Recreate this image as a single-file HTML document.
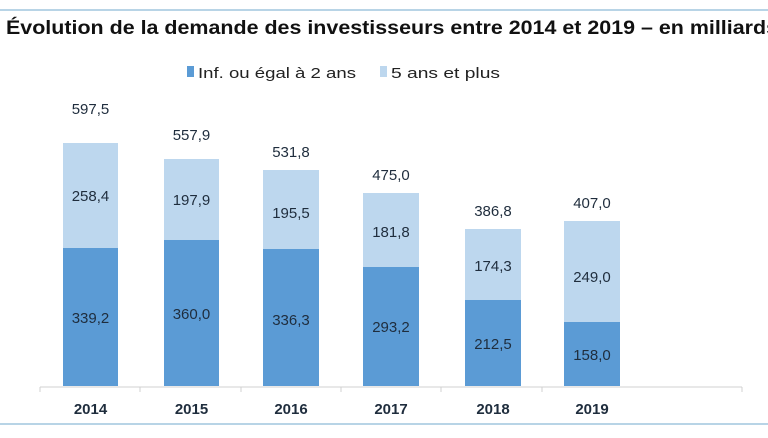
<!DOCTYPE html>
<html><head><meta charset="utf-8"><style>
body{margin:0;background:#fff;width:768px;height:433px;overflow:hidden}
</style></head><body>
<svg width="768" height="433" xmlns="http://www.w3.org/2000/svg" font-family="Liberation Sans, sans-serif">
<rect width="768" height="433" fill="#fff"/>
<line x1="0" y1="10" x2="768" y2="10" stroke="#b8d4e6" stroke-width="2"/>
<line x1="0" y1="424" x2="768" y2="424" stroke="#b8d4e6" stroke-width="2"/>
<text x="6" y="34" font-size="19" font-weight="bold" fill="#111" textLength="772" lengthAdjust="spacingAndGlyphs">Évolution de la demande des investisseurs entre 2014 et 2019 – en milliards</text>
<rect x="187" y="66" width="7" height="11" fill="#5b9bd5"/>
<text x="198" y="78" font-size="15" fill="#222" textLength="158" lengthAdjust="spacingAndGlyphs">Inf. ou égal à 2 ans</text>
<rect x="380" y="66" width="7" height="11" fill="#bdd7ee"/>
<text x="391" y="78" font-size="15" fill="#222" textLength="109" lengthAdjust="spacingAndGlyphs">5 ans et plus</text>
<line x1="40" y1="387" x2="742" y2="387" stroke="#d0d0d0"/>
<g stroke="#d0d0d0"><line x1="140" y1="387" x2="140" y2="392"/><line x1="241" y1="387" x2="241" y2="392"/><line x1="341" y1="387" x2="341" y2="392"/><line x1="441" y1="387" x2="441" y2="392"/><line x1="542" y1="387" x2="542" y2="392"/><line x1="40" y1="387" x2="40" y2="392"/><line x1="742" y1="387" x2="742" y2="392"/></g>
<g font-size="15" fill="#1f2d3d" text-anchor="middle">
<rect x="63" y="248" width="55" height="138" fill="#5b9bd5"/><rect x="63" y="143" width="55" height="105" fill="#bdd7ee"/>
<text x="90.5" y="323">339,2</text><text x="90.5" y="201">258,4</text><text x="90.5" y="114">597,5</text><text x="90.5" y="414" font-weight="bold">2014</text>
<rect x="164" y="240" width="55" height="146" fill="#5b9bd5"/><rect x="164" y="159" width="55" height="81" fill="#bdd7ee"/>
<text x="191.5" y="319">360,0</text><text x="191.5" y="205">197,9</text><text x="191.5" y="140">557,9</text><text x="191.5" y="414" font-weight="bold">2015</text>
<rect x="263" y="249" width="56" height="137" fill="#5b9bd5"/><rect x="263" y="170" width="56" height="79" fill="#bdd7ee"/>
<text x="291" y="325">336,3</text><text x="291" y="218">195,5</text><text x="291" y="157">531,8</text><text x="291" y="414" font-weight="bold">2016</text>
<rect x="363" y="267" width="56" height="119" fill="#5b9bd5"/><rect x="363" y="193" width="56" height="74" fill="#bdd7ee"/>
<text x="391" y="332">293,2</text><text x="391" y="237">181,8</text><text x="391" y="180">475,0</text><text x="391" y="414" font-weight="bold">2017</text>
<rect x="465" y="300" width="56" height="86" fill="#5b9bd5"/><rect x="465" y="229" width="56" height="71" fill="#bdd7ee"/>
<text x="493" y="349">212,5</text><text x="493" y="271">174,3</text><text x="493" y="216">386,8</text><text x="493" y="414" font-weight="bold">2018</text>
<rect x="564" y="322" width="56" height="64" fill="#5b9bd5"/><rect x="564" y="221" width="56" height="101" fill="#bdd7ee"/>
<text x="592" y="360">158,0</text><text x="592" y="282">249,0</text><text x="592" y="208">407,0</text><text x="592" y="414" font-weight="bold">2019</text>
</g>
</svg>
</body></html>
